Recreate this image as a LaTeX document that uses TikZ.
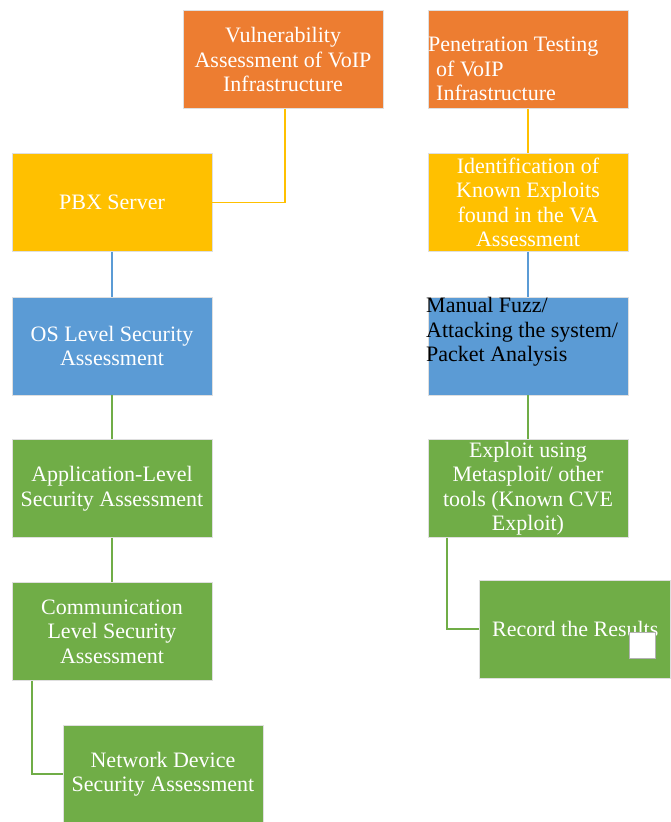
\documentclass[tikz,border=0pt]{standalone}
\usepackage{fontspec}
\setmainfont{Liberation Serif}
\definecolor{cor}{HTML}{ED7D31}
\definecolor{cye}{HTML}{FFC000}
\definecolor{cbl}{HTML}{5B9BD5}
\definecolor{cgr}{HTML}{70AD47}
\begin{document}
\begin{tikzpicture}[x=1pt,y=-1pt,
  box/.style={rectangle, minimum width=200pt, minimum height=98pt, inner sep=0pt,
    text=white, align=center, font=\fontsize{22}{24.5}\selectfont,
    draw=white!75!gray, line width=0.6pt},
  txt/.style={inner sep=0pt, font=\fontsize{22}{24.5}\selectfont},
  conn/.style={line width=1.5pt}]
\useasboundingbox (0,0) rectangle (670,822);
% left column
\node[box, fill=cor] (va) at (283,59.5) {Vulnerability\\Assessment of VoIP\\Infrastructure};
\node[box, fill=cye] (pbx) at (112,202.5) {PBX Server};
\node[box, fill=cbl] (os) at (112,346) {OS Level Security\\Assessment};
\node[box, fill=cgr] (app) at (112,488.5) {Application-Level\\Security Assessment};
\node[box, fill=cgr] (comm) at (112,631.5) {Communication\\Level Security\\Assessment};
\node[box, fill=cgr] (net) at (163,774) {Network Device\\Security Assessment};
% right column
\node[box, fill=cor] (pt) at (528,59.5) {};
\node[txt, text=white, anchor=west, align=left] (ptt) at (428,69) {Penetration Testing\\\hspace*{8pt}of VoIP\\\hspace*{8pt}Infrastructure};
\node[box, fill=cye] (ident) at (528,202.5) {Identification of\\Known Exploits\\found in the VA\\Assessment};
\node[box, fill=cbl] (man) at (528,346) {};
\node[txt, text=black, anchor=west, align=left] (mant) at (426,332) {Manual Fuzz/\\Attacking the system/\\Packet Analysis};
\node[box, fill=cgr] (exp) at (528,488.5) {Exploit using\\Metasploit/ other\\tools (Known CVE\\Exploit)};
\node[box, fill=cgr, minimum width=191pt] (rec) at (574.5,629) {};
\node[txt, text=white, anchor=west] (rect) at (492,629) {Record the Results};
\node[draw=gray!60, fill=white, minimum size=26pt, inner sep=0pt, line width=0.6pt] (sq) at (642.5,645) {};
% connectors
\draw[conn, cye] ([xshift=2pt]va.south) |- (pbx.east);
\draw[conn, cbl] (pbx) -- (os);
\draw[conn, cgr] (os) -- (app);
\draw[conn, cgr] (app) -- (comm);
\draw[conn, cgr] ([xshift=-80pt]comm.south) |- (net.west);
\draw[conn, cye] (pt) -- (ident);
\draw[conn, cbl] (ident) -- (man);
\draw[conn, cgr] (man) -- (exp);
\draw[conn, cgr] ([xshift=-81pt]exp.south) |- (rec.west);
\end{tikzpicture}
\end{document}
